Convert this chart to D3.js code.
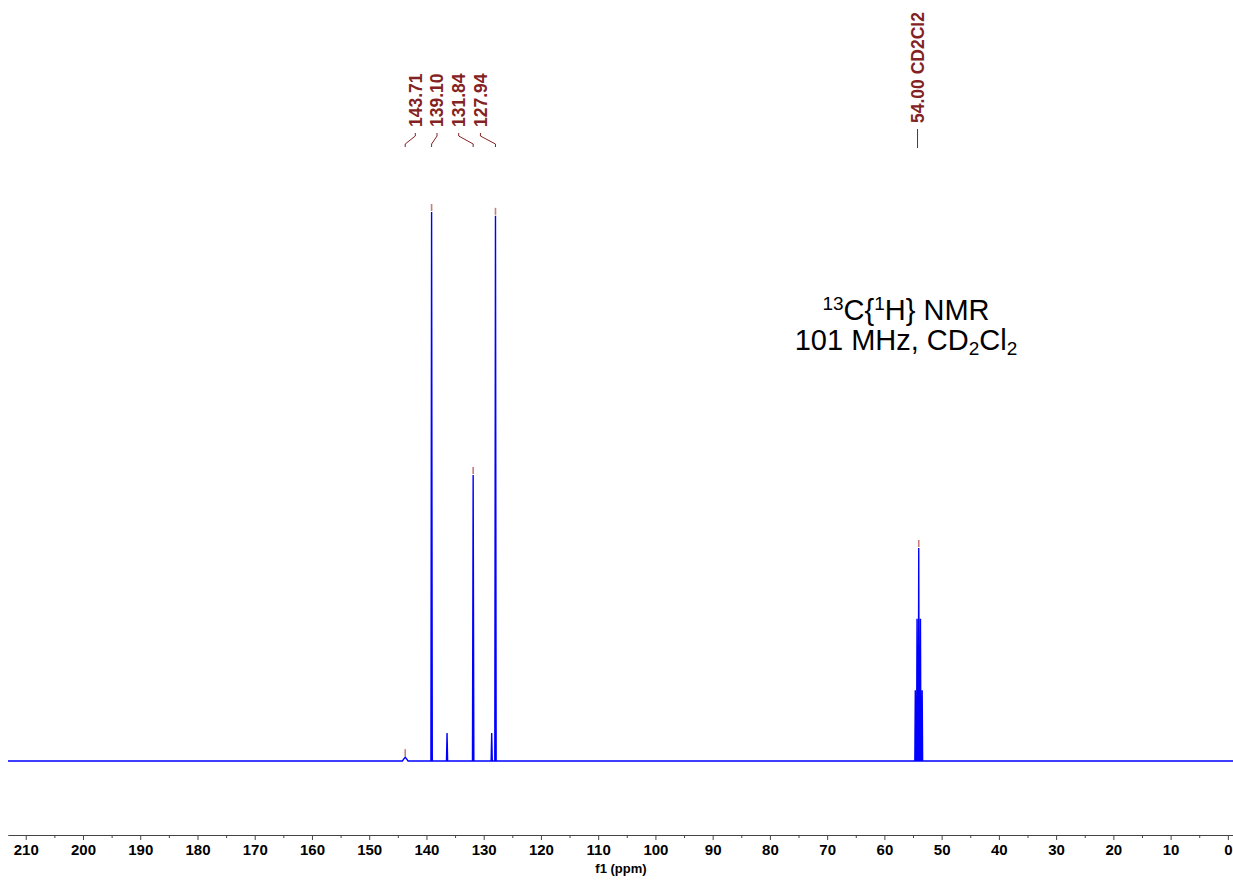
<!DOCTYPE html>
<html>
<head>
<meta charset="utf-8">
<script src="https://cdn.jsdelivr.net/npm/d3@7"></script>
<style>
  html, body { margin: 0; padding: 0; background: #fff; }
  svg { display: block; font-family: "Liberation Sans", Arial, sans-serif; }
</style>
</head>
<body>
<svg id="chart" width="1233" height="880"></svg>
<script>
// Peak list of the 13C{1H} spectrum (chemical shift in ppm, relative intensity)
const peakPpm    = [143.71, 139.10, 136.40, 131.84, 128.60, 127.94, 54.60, 54.30, 54.00, 53.70, 53.40];
const peakHeight = [0.7,    100.0,  5.1,    52.1,   5.1,    99.3,   12.9,  25.9,  38.8,  25.9,  12.9];
const peakHalfWidth = [0.5, 0.12,   0.1,    0.12,   0.1,    0.12,   0.08,  0.08,  0.08,  0.08,  0.08];

// Picked peaks with labels
const pickedGroup = [143.71, 139.10, 131.84, 127.94];
const pickedGroupHeight = [0.7, 100.0, 52.1, 99.3];
const solventPpm = 54.00;
const solventHeight = 38.8;
const solventLabel = "54.00 CD2Cl2";

// Axis ticks
const majorTicks = d3.range(0, 211, 10);
const minorTicks = d3.range(5, 211, 10);
const axisTitle = "f1 (ppm)";

const svg = d3.select("#chart");

const x = d3.scaleLinear().domain([213.1, -0.9]).range([8, 1233]);
const y = d3.scaleLinear().domain([0, 100]).range([761, 212]);

// Spectrum trace: flat baseline with each line drawn as a narrow peak
const pts = [[213.1, 0]];
const order = d3.range(peakPpm.length).sort((a, b) => peakPpm[b] - peakPpm[a]);
order.forEach(i => {
  pts.push([peakPpm[i] + peakHalfWidth[i], 0]);
  pts.push([peakPpm[i], peakHeight[i]]);
  pts.push([peakPpm[i] - peakHalfWidth[i], 0]);
});
pts.push([-0.9, 0]);

const line = d3.line().x(d => x(d[0])).y(d => y(d[1]));
svg.append("path")
  .datum(pts)
  .attr("d", line)
  .attr("fill", "none")
  .attr("stroke", "#0000ff")
  .attr("stroke-width", 1.4)
  .attr("stroke-linejoin", "miter");

// Peak-pick markers on top of the picked lines
const markerColor = "#c47f76";
const pickedAll = pickedGroup.map((p, i) => [p, pickedGroupHeight[i]]).concat([[solventPpm, solventHeight]]);
svg.selectAll(".marker")
  .data(pickedAll)
  .enter().append("line")
  .attr("class", "marker")
  .attr("x1", d => x(d[0])).attr("x2", d => x(d[0]))
  .attr("y1", d => y(d[1]) - 8).attr("y2", d => y(d[1]) - 1)
  .attr("stroke", markerColor)
  .attr("stroke-width", 1.6);

// Peak labels
const labelColor = "#832222";
const labelTop = 127;
const spacing = 21.7;
const gx = d3.mean(pickedGroup, p => x(p)) - 3.5;
const labelX = pickedGroup.map((p, i) => gx + (i - (pickedGroup.length - 1) / 2) * spacing);

pickedGroup.forEach((p, i) => {
  const lx = labelX[i], px = x(p);
  svg.append("text")
    .attr("transform", `translate(${lx},${labelTop}) rotate(-90)`)
    .attr("dy", "0.36em")
    .attr("fill", labelColor)
    .attr("font-weight", "bold")
    .attr("font-size", 17.5)
    .text(p.toFixed(2));
  svg.append("polyline")
    .attr("points", [[lx, 133], [lx, 136], [px, 144], [px, 147]].map(d => d.join(",")).join(" "))
    .attr("fill", "none")
    .attr("stroke", labelColor)
    .attr("stroke-width", 1);
});

// Solvent label
const sx = x(solventPpm) - 1.2;
svg.append("text")
  .attr("transform", `translate(${sx},${labelTop - 4}) rotate(-90)`)
  .attr("dy", "0.36em")
  .attr("fill", labelColor)
  .attr("font-weight", "bold")
  .attr("font-size", 17.5)
  .text(solventLabel);
svg.append("line")
  .attr("x1", sx).attr("x2", sx)
  .attr("y1", 129).attr("y2", 148)
  .attr("stroke", labelColor)
  .attr("stroke-width", 1);

// Experiment annotation
const ann = svg.append("g").attr("font-size", 29).attr("fill", "#000").attr("text-anchor", "middle");
const t1 = ann.append("text").attr("x", 906).attr("y", 320);
t1.append("tspan").attr("font-size", 19).attr("dy", -10).text("13");
t1.append("tspan").attr("dy", 10).text("C{");
t1.append("tspan").attr("font-size", 19).attr("dy", -10).text("1");
t1.append("tspan").attr("dy", 10).text("H} NMR");
const t2 = ann.append("text").attr("x", 906).attr("y", 350);
t2.append("tspan").text("101 MHz, CD");
t2.append("tspan").attr("font-size", 19).attr("dy", 5).text("2");
t2.append("tspan").attr("dy", -5).text("Cl");
t2.append("tspan").attr("font-size", 19).attr("dy", 5).text("2");

// Chemical shift axis
const axisY = 835;
const gMinor = svg.append("g").attr("transform", `translate(0,${axisY})`)
  .call(d3.axisBottom(x).tickValues(minorTicks).tickSize(3).tickSizeOuter(0).tickFormat(""));
const gMajor = svg.append("g").attr("transform", `translate(0,${axisY})`)
  .call(d3.axisBottom(x).tickValues(majorTicks).tickSize(5).tickSizeOuter(0).tickFormat(d3.format("d")));
[gMinor, gMajor].forEach(g => {
  g.select(".domain").attr("stroke", "#444").attr("stroke-width", 1.2);
  g.selectAll(".tick line").attr("stroke", "#444").attr("stroke-width", 1);
});
gMajor.selectAll(".tick text")
  .attr("font-family", "'Liberation Sans', Arial, sans-serif")
  .attr("font-size", 15)
  .attr("font-weight", "bold")
  .attr("fill", "#000")
  .attr("y", 9);

svg.append("text")
  .attr("x", 621).attr("y", 873)
  .attr("text-anchor", "middle")
  .attr("font-size", 13)
  .attr("font-weight", "bold")
  .text(axisTitle);
</script>
</body>
</html>
